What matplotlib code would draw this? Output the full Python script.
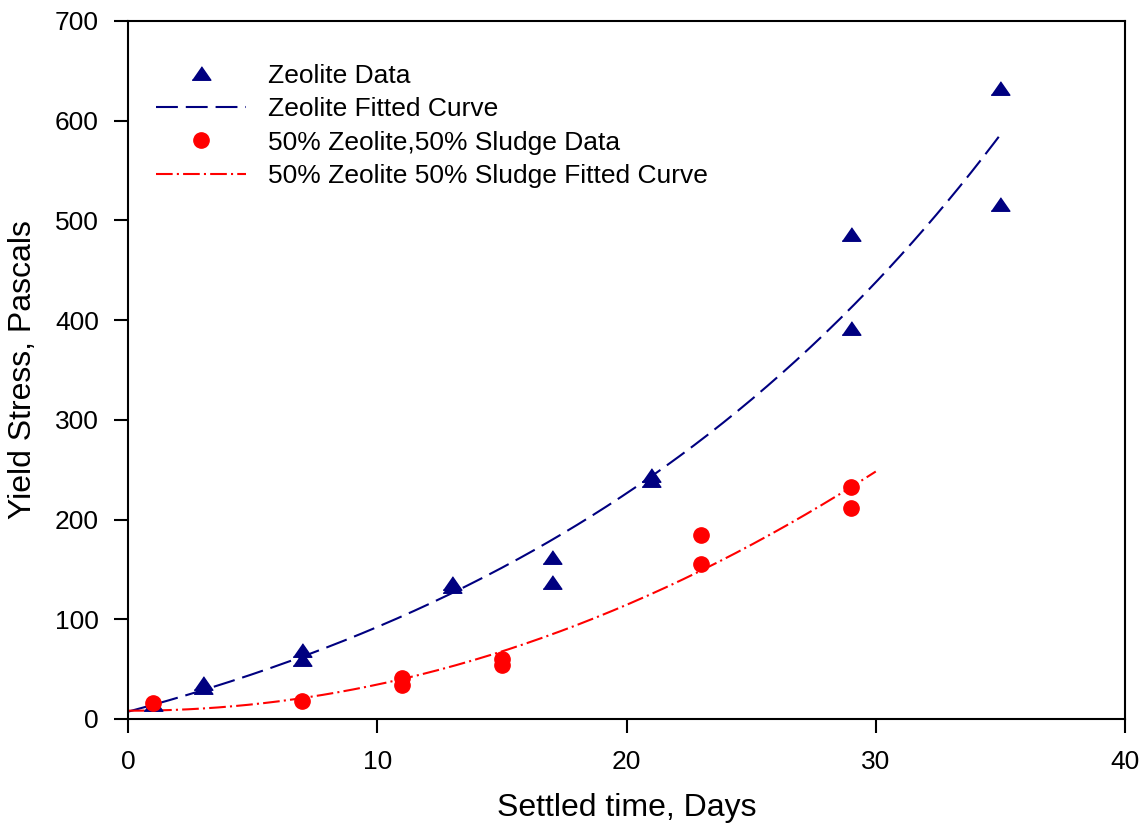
import numpy as np
import matplotlib
matplotlib.use("Agg")
import matplotlib.pyplot as plt

plt.rcParams['font.family'] = ['Liberation Sans', 'DejaVu Sans']

# Zeolite data
zeo_x = [1, 3, 3, 7, 7, 13, 13, 17, 17, 21, 21, 29, 29, 35, 35]
zeo_y = [15, 36, 32, 69, 60, 136, 133, 162, 137, 245, 240, 486, 392, 633, 516]
# 50% Zeolite, 50% Sludge data
mix_x = [1, 7, 11, 11, 15, 15, 23, 23, 29, 29]
mix_y = [16, 18, 41, 34, 60, 54, 185, 155, 233, 212]

zeo_fit_range = (0, 35)
mix_fit_range = (0, 30)


def fit_exp_growth(x, y):
    """Least-squares fit of y = y0 + a*exp(b*x) (b by grid search)."""
    x = np.asarray(x, float)
    y = np.asarray(y, float)
    best = None
    for b in np.linspace(0.001, 0.3, 3000):
        A = np.column_stack([np.ones_like(x), np.exp(b * x)])
        coef, *_ = np.linalg.lstsq(A, y, rcond=None)
        sse = np.sum((A @ coef - y) ** 2)
        if best is None or sse < best[0]:
            best = (sse, coef[0], coef[1], b)
    _, y0, a, b = best
    return lambda t: y0 + a * np.exp(b * t)


def fit_quadratic(x, y):
    c = np.polyfit(x, y, 2)
    return lambda t: np.polyval(c, t)


fig = plt.figure(figsize=(11.43, 8.25), dpi=100)
ax = fig.add_axes([128/1143, 1 - 719/825, (1125-128)/1143, (719-21)/825])

fz = fit_exp_growth(zeo_x, zeo_y)
fm = fit_quadratic(mix_x, mix_y)
xz = np.linspace(*zeo_fit_range, 300)
xm = np.linspace(*mix_fit_range, 300)

tri = [(-1, -0.72), (1, -0.72), (0, 0.72)]
navy = '#000080'
red = '#ff0000'

ax.plot(zeo_x, zeo_y, marker=tri, color=navy, markersize=13.5, linestyle='none',
        label='Zeolite Data', zorder=3)
ax.plot(xz, fz(xz), color=navy, lw=1.5, dashes=(10.5, 3.8), label='Zeolite Fitted Curve')
ax.plot(mix_x, mix_y, 'o', color=red, markersize=11, linestyle='none',
        label='50% Zeolite,50% Sludge Data', zorder=3)
ax.plot(xm, fm(xm), color=red, lw=1.5, dashes=(8, 2, 1, 2),
        label='50% Zeolite 50% Sludge Fitted Curve')

ax.set_xlim(0, 40)
ax.set_ylim(0, 700)
ax.set_xticks(range(0, 41, 10))
ax.set_yticks(range(0, 701, 100))
ax.tick_params(direction='out', length=10, width=1.5, labelsize=19)
ax.tick_params(axis='x', pad=12)
ax.tick_params(axis='y', pad=11)
for s in ax.spines.values():
    s.set_linewidth(1.5)
ax.set_xlabel('Settled time, Days', fontsize=23, labelpad=14)
ax.set_ylabel('Yield Stress, Pascals', fontsize=23, labelpad=12)

ax.legend(loc='upper left', bbox_to_anchor=(0.015, 0.958), frameon=False, fontsize=19,
          borderpad=0, handlelength=3.4, handletextpad=0.85, labelspacing=0.36,
          numpoints=1)

fig.savefig('out.png', dpi=100)
